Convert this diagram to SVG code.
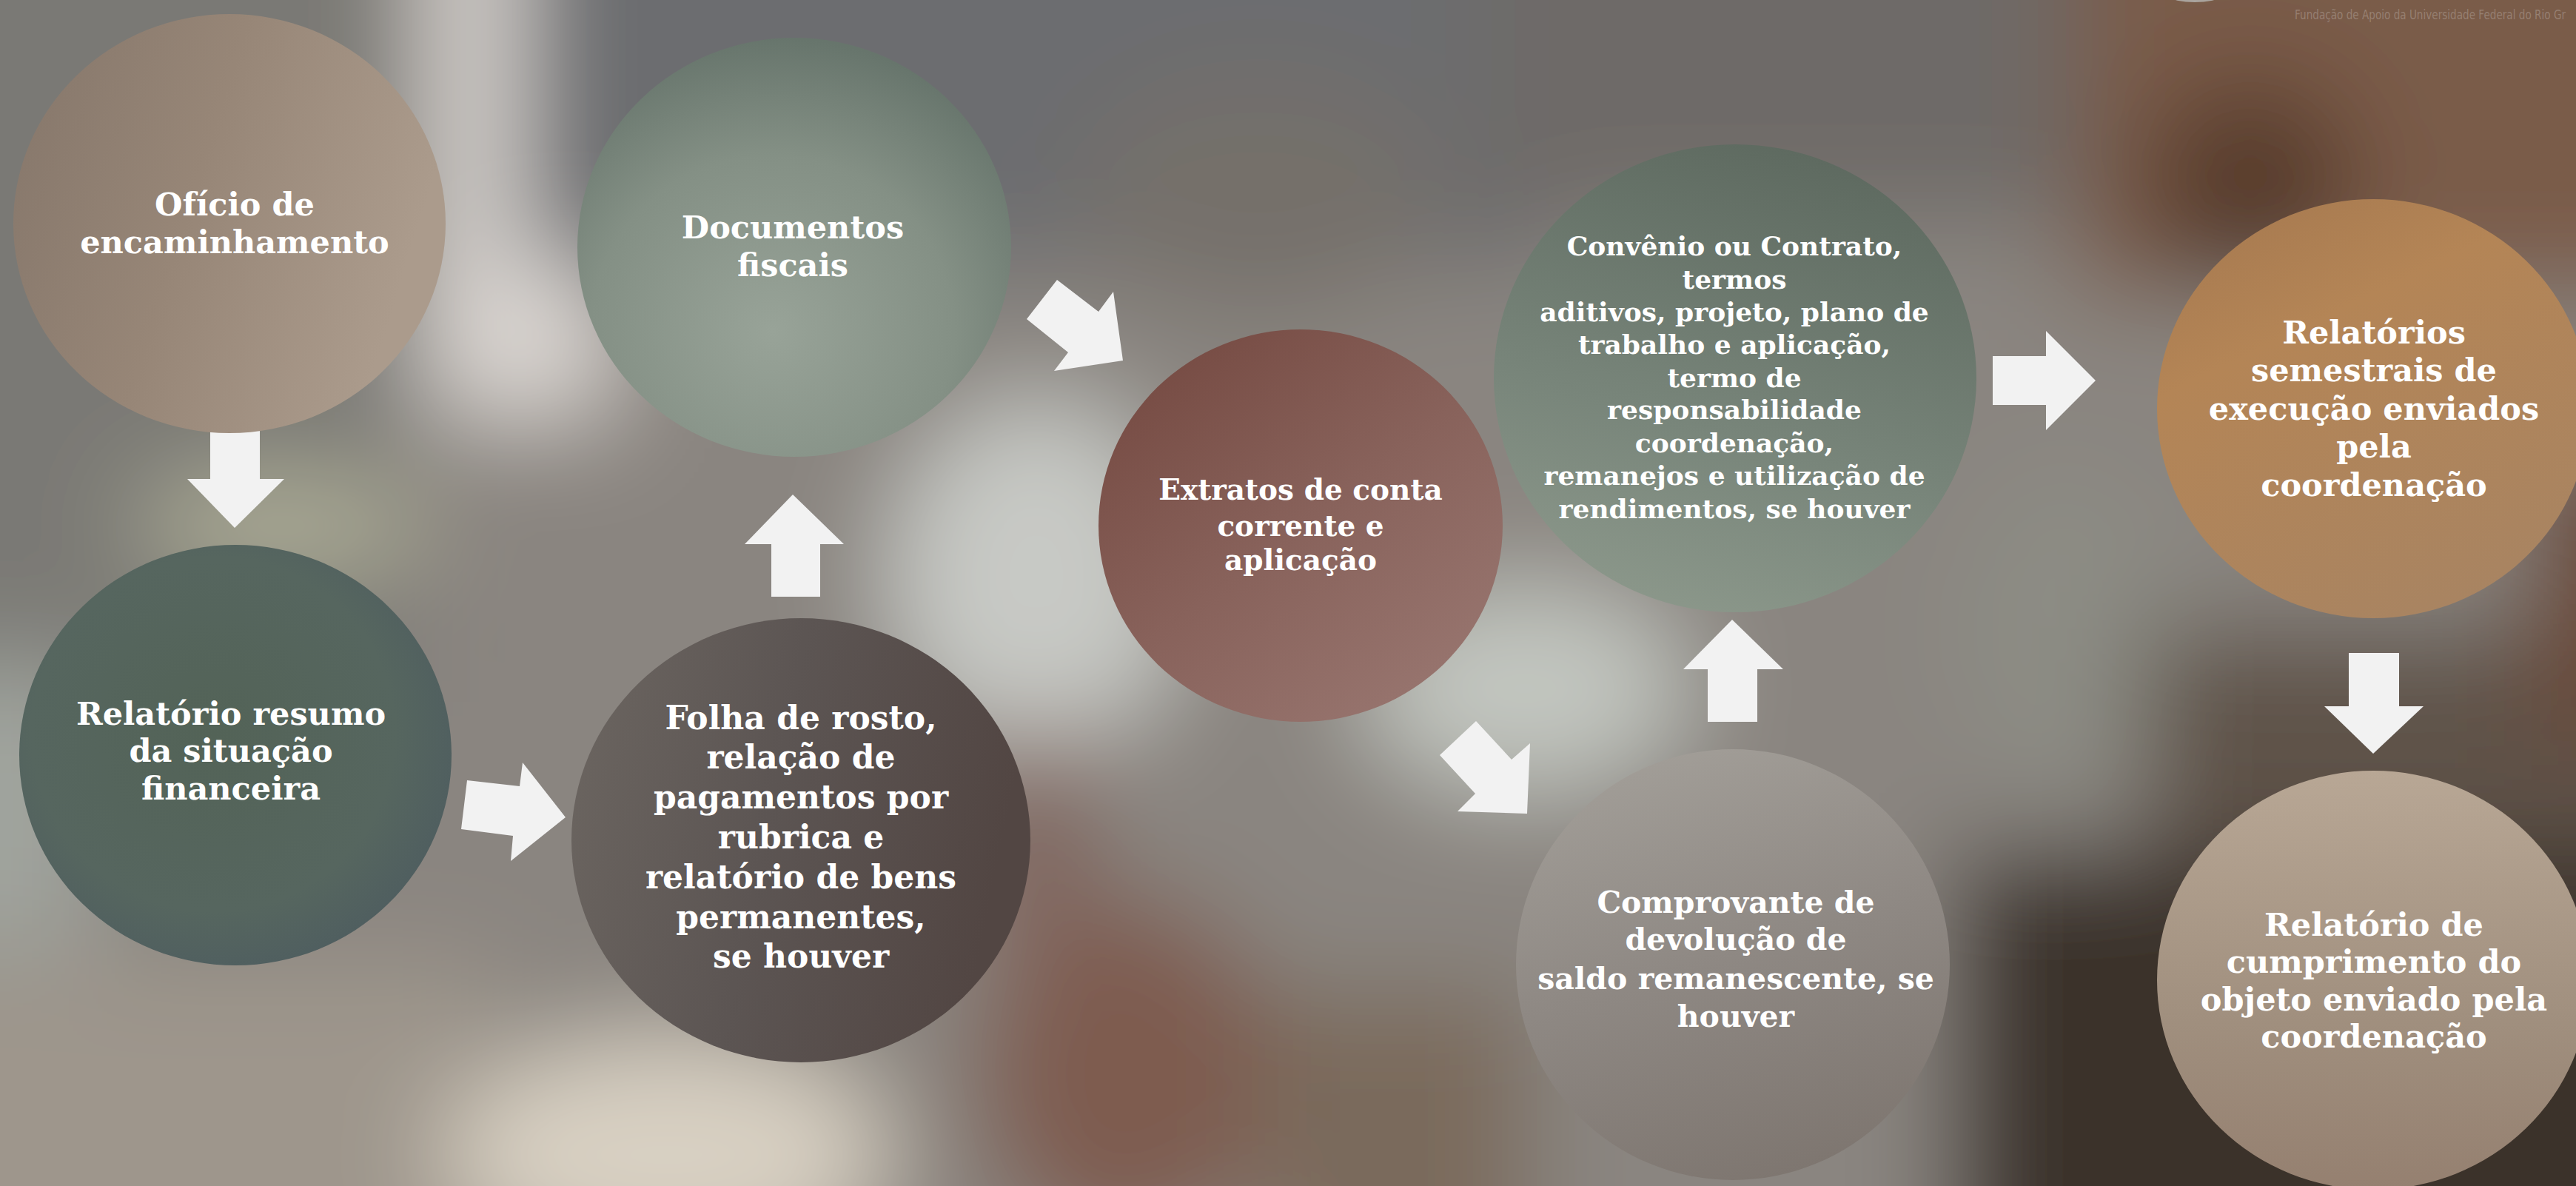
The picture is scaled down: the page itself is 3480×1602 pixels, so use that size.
<svg xmlns="http://www.w3.org/2000/svg" width="3480" height="1602" viewBox="0 0 3480 1602">
<defs>
<style>
.lbl{font-family:"DejaVu Serif","Liberation Serif",serif;font-weight:bold;fill:#ffffff;text-anchor:middle}
.arrow{fill:#f2f2f2}
.wm{font-family:"DejaVu Sans","Liberation Sans",sans-serif;font-size:17px;fill:#a08c80;fill-opacity:0.75}
</style>
<filter id="blur" x="-10%" y="-10%" width="120%" height="120%"><feGaussianBlur stdDeviation="70"/></filter>
<linearGradient id="gOf" x1="0" y1="0" x2="1" y2="0.3"><stop offset="0" stop-color="#85766a"/><stop offset="0.5" stop-color="#978677"/><stop offset="1" stop-color="#ab9b8c"/></linearGradient>
<radialGradient id="gDoc" cx="0.45" cy="0.7" r="0.7"><stop offset="0" stop-color="#98a398"/><stop offset="0.6" stop-color="#849085"/><stop offset="1" stop-color="#67756c"/></radialGradient>
<radialGradient id="gRel" cx="0.45" cy="0.45" r="0.7"><stop offset="0" stop-color="#536357"/><stop offset="0.6" stop-color="#56665f"/><stop offset="1" stop-color="#4a5860"/></radialGradient>
<linearGradient id="gFol" x1="0" y1="0" x2="1" y2="0.2"><stop offset="0" stop-color="#6c6661"/><stop offset="0.5" stop-color="#5c5553"/><stop offset="1" stop-color="#524643"/></linearGradient>
<linearGradient id="gExt" x1="0.1" y1="0" x2="0.9" y2="1"><stop offset="0" stop-color="#744840"/><stop offset="0.5" stop-color="#88625b"/><stop offset="1" stop-color="#9a7872"/></linearGradient>
<linearGradient id="gCon" x1="0.6" y1="0" x2="0.3" y2="1"><stop offset="0" stop-color="#5e6a60"/><stop offset="0.6" stop-color="#78857a"/><stop offset="1" stop-color="#8c988b"/></linearGradient>
<linearGradient id="gCom" x1="0.3" y1="0" x2="0.6" y2="1"><stop offset="0" stop-color="#a29e98"/><stop offset="0.5" stop-color="#8e8883"/><stop offset="1" stop-color="#7e7670"/></linearGradient>
<linearGradient id="gSem" x1="0.2" y1="0" x2="0.7" y2="1"><stop offset="0" stop-color="#a77a50"/><stop offset="0.3" stop-color="#b48556"/><stop offset="1" stop-color="#a88462"/></linearGradient>
<linearGradient id="gCum" x1="0.5" y1="0" x2="0.5" y2="1"><stop offset="0" stop-color="#b8a795"/><stop offset="0.6" stop-color="#a08f7e"/><stop offset="1" stop-color="#958070"/></linearGradient>
</defs>

<g id="background">
<rect x="0" y="0" width="3480" height="1602" fill="#8a8580"/>
<g filter="url(#blur)">
<rect x="-200" y="-200" width="3900" height="2000" fill="#8a8580"/>
<rect x="-200" y="-200" width="760" height="1100" fill="#7a7974"/>
<rect x="580" y="-200" width="240" height="760" fill="#ddd8d4"/>
<rect x="700" y="-200" width="1400" height="560" fill="#6c6d70"/>
<rect x="2000" y="-200" width="800" height="500" fill="#6e6a68"/>
<rect x="2800" y="-200" width="900" height="600" fill="#7a5c48"/>
<ellipse cx="3040" cy="250" rx="140" ry="140" fill="#573a2c"/>
<ellipse cx="1400" cy="780" rx="200" ry="240" fill="#c7c9c5"/>
<ellipse cx="2060" cy="930" rx="220" ry="140" fill="#c2c6c0"/>
<rect x="-200" y="900" width="330" height="380" fill="#a0a49e"/>
<ellipse cx="380" cy="710" rx="200" ry="70" fill="#aeae98"/>
<rect x="-200" y="1300" width="870" height="500" fill="#9e968c"/>
<ellipse cx="900" cy="1560" rx="300" ry="160" fill="#d8d0c2"/>
<ellipse cx="1520" cy="1450" rx="200" ry="240" fill="#7e5c50"/>
<ellipse cx="1400" cy="1150" rx="70" ry="180" fill="#806058"/>
<rect x="1700" y="1340" width="360" height="460" fill="#7a6a5c"/>
<ellipse cx="2790" cy="850" rx="150" ry="220" fill="#8c8c84"/>
<rect x="2640" y="1150" width="1100" height="650" fill="#3a302a"/>
<rect x="2900" y="850" width="800" height="300" fill="#5e5248"/>
<rect x="3420" y="600" width="300" height="400" fill="#6a4a38"/>
<ellipse cx="1700" cy="260" rx="250" ry="160" fill="#75706a"/>
</g>
<ellipse cx="2965" cy="-28" rx="62" ry="31" fill="#aaa49e"/>
</g>

<g id="connectors">
<polygon class="arrow" points="284,581 351,581 351,647 384,647 317,713 253,647 284,647"/>
<polygon class="arrow" points="631,1054 702,1062 706,1030 764,1104 690,1163 693,1129 623,1120"/>
<polygon class="arrow" points="1042,806 1108,806 1108,735 1140,735 1071,668 1006,735 1042,735"/>
<polygon class="arrow" points="1428,378 1484,421 1504,394 1517,487 1424,501 1443,476 1387,431"/>
<polygon class="arrow" points="1994,974 2042,1026 2067,1004 2063,1099 1969,1096 1993,1072 1945,1020"/>
<polygon class="arrow" points="2307,975 2374,975 2374,904 2409,904 2340,837 2274,904 2307,904"/>
<polygon class="arrow" points="2692,481 2764,481 2764,447 2831,514 2764,581 2764,547 2692,547"/>
<polygon class="arrow" points="3173,882 3241,882 3241,954 3274,954 3206,1018 3140,954 3173,954"/>
</g>

<g id="node-oficio">
<ellipse cx="310" cy="302" rx="292" ry="283" fill="url(#gOf)"/>
<text class="lbl" font-size="43" x="317" y="291">Ofício de</text>
<text class="lbl" font-size="43" x="317" y="342">encaminhamento</text>
</g>

<g id="node-documentos">
<ellipse cx="1073" cy="334" rx="293" ry="283" fill="url(#gDoc)"/>
<text class="lbl" font-size="43" x="1071" y="322">Documentos</text>
<text class="lbl" font-size="43" x="1071" y="373">fiscais</text>
</g>

<g id="node-relatorio-resumo">
<ellipse cx="318" cy="1020" rx="292" ry="284" fill="url(#gRel)"/>
<text class="lbl" font-size="43" x="312" y="979">Relatório resumo</text>
<text class="lbl" font-size="43" x="312" y="1029">da situação</text>
<text class="lbl" font-size="43" x="312" y="1080">financeira</text>
</g>

<g id="node-folha">
<ellipse cx="1082" cy="1135" rx="310" ry="300" fill="url(#gFol)"/>
<text class="lbl" font-size="44" x="1082" y="985">Folha de rosto,</text>
<text class="lbl" font-size="44" x="1082" y="1038">relação de</text>
<text class="lbl" font-size="44" x="1082" y="1092">pagamentos por</text>
<text class="lbl" font-size="44" x="1082" y="1146">rubrica e</text>
<text class="lbl" font-size="44" x="1082" y="1200">relatório de bens</text>
<text class="lbl" font-size="44" x="1082" y="1254">permanentes,</text>
<text class="lbl" font-size="44" x="1082" y="1307">se houver</text>
</g>

<g id="node-extratos">
<ellipse cx="1757" cy="710" rx="273" ry="265" fill="url(#gExt)"/>
<text class="lbl" font-size="39" x="1757" y="675">Extratos de conta</text>
<text class="lbl" font-size="39" x="1757" y="724">corrente e</text>
<text class="lbl" font-size="39" x="1757" y="770">aplicação</text>
</g>

<g id="node-convenio">
<ellipse cx="2344" cy="511" rx="326" ry="316" fill="url(#gCon)"/>
<text class="lbl" font-size="36" x="2343" y="345">Convênio ou Contrato,</text>
<text class="lbl" font-size="36" x="2343" y="390">termos</text>
<text class="lbl" font-size="36" x="2343" y="434">aditivos, projeto, plano de</text>
<text class="lbl" font-size="36" x="2343" y="478">trabalho e aplicação,</text>
<text class="lbl" font-size="36" x="2343" y="523">termo de</text>
<text class="lbl" font-size="36" x="2343" y="566">responsabilidade</text>
<text class="lbl" font-size="36" x="2343" y="611">coordenação,</text>
<text class="lbl" font-size="36" x="2343" y="655">remanejos e utilização de</text>
<text class="lbl" font-size="36" x="2343" y="700">rendimentos, se houver</text>
</g>

<g id="node-comprovante">
<ellipse cx="2341" cy="1303" rx="293" ry="291" fill="url(#gCom)"/>
<text class="lbl" font-size="41" x="2345" y="1233">Comprovante de</text>
<text class="lbl" font-size="41" x="2345" y="1283">devolução de</text>
<text class="lbl" font-size="41" x="2345" y="1336">saldo remanescente, se</text>
<text class="lbl" font-size="41" x="2345" y="1387">houver</text>
</g>

<g id="node-semestrais">
<ellipse cx="3206" cy="552" rx="292" ry="283" fill="url(#gSem)"/>
<text class="lbl" font-size="43" x="3207" y="464">Relatórios</text>
<text class="lbl" font-size="43" x="3207" y="515">semestrais de</text>
<text class="lbl" font-size="43" x="3207" y="567">execução enviados</text>
<text class="lbl" font-size="43" x="3207" y="618">pela</text>
<text class="lbl" font-size="43" x="3207" y="670">coordenação</text>
</g>

<g id="node-cumprimento">
<ellipse cx="3206" cy="1324" rx="292" ry="283" fill="url(#gCum)"/>
<text class="lbl" font-size="43" x="3207" y="1264">Relatório de</text>
<text class="lbl" font-size="43" x="3207" y="1314">cumprimento do</text>
<text class="lbl" font-size="43" x="3207" y="1365">objeto enviado pela</text>
<text class="lbl" font-size="43" x="3207" y="1415">coordenação</text>
</g>

<text class="wm" x="3100" y="26" textLength="366" lengthAdjust="spacingAndGlyphs">Fundação de Apoio da Universidade Federal do Rio Gr</text>
</svg>
